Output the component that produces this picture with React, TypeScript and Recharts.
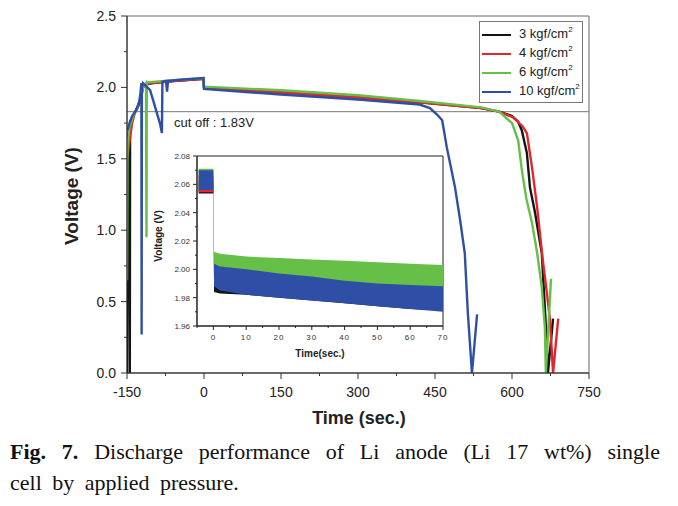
import React from 'react';
import {
    LineChart,
    Line,
    XAxis,
    YAxis,
    ReferenceLine,
    ReferenceArea,
    ComposedChart,
    Area
} from 'recharts';

// main plot, time (sec.) vs voltage (V)
const blackT = [-150, -149, -146, -144.5, -144, -138, -130, -124, -119, -114, -100, -60, -20, -1, 0, 150, 300, 420, 540, 575, 600, 612, 619, 629, 635, 645, 658, 664, 668, 670, 680];
const blackV = [0, 1.62, 1.7, 0, 1.76, 1.8, 1.86, 1.92, 2.0, 2.02, 2.03, 2.045, 2.055, 2.06, 2.0, 1.965, 1.93, 1.895, 1.855, 1.83, 1.8, 1.76, 1.7, 1.54, 1.3, 1.12, 0.84, 0.46, 0.18, 0, 0.38];

const redT = [-150, -146, -140, -135, -130, -126, -122, -118, -112, -80, -40, -1, 0, 150, 300, 420, 540, 575, 602, 620, 629, 639, 649, 660, 668, 674, 680, 690];
const redV = [1.5, 1.6, 1.75, 1.82, 1.86, 1.89, 1.94, 2.01, 2.025, 2.04, 2.05, 2.06, 2.0, 1.965, 1.93, 1.895, 1.855, 1.83, 1.79, 1.73, 1.68, 1.44, 1.16, 0.79, 0.56, 0.37, 0, 0.38];

const greenT = [-150, -149, -145, -138, -130, -125, -119, -113, -112, -111.5, -110, -60, -20, -1, 0, 150, 300, 420, 540, 575, 600, 612, 620, 628, 639, 649, 658, 664, 666, 676];
const greenV = [0.65, 1.6, 1.72, 1.8, 1.85, 1.9, 2.0, 2.03, 0.95, 2.03, 2.035, 2.05, 2.06, 2.065, 2.005, 1.98, 1.945, 1.905, 1.86, 1.83, 1.75, 1.63, 1.4, 1.22, 1.05, 0.84, 0.6, 0.32, 0, 0.66];

const blueT = [-149, -145, -140, -132, -127, -124, -122, -121.5, -121, -119, -105, -95, -86, -82, -81, -74, -72, -70, -40, -1, 0, 150, 300, 420, 440, 454, 464, 473, 489, 499, 508, 514, 522, 532];
const blueV = [1.7, 1.75, 1.8, 1.84, 1.88, 1.95, 2.03, 0.27, 2.0, 2.03, 1.98, 1.86, 1.75, 1.68, 2.04, 2.045, 1.97, 2.045, 2.055, 2.065, 1.99, 1.95, 1.915, 1.88, 1.855, 1.81, 1.77, 1.58, 1.3, 1.07, 0.84, 0.42, 0, 0.41];

const mainXTicks = [-150, -75, 0, 75, 150, 225, 300, 375, 450, 525, 600, 675, 750];
const mainYTicks = [0, 0.25, 0.5, 0.75, 1, 1.25, 1.5, 1.75, 2, 2.25, 2.5];
const cutOff = 1.83;

// inset: noisy bands shown as low/high envelopes
const insetT = [-4.5, 0, 0.2, 2, 10, 20, 30, 40, 50, 60, 70];
const greenHi = [2.071, 2.071, 2.0125, 2.011, 2.009, 2.008, 2.007, 2.006, 2.005, 2.004, 2.003];
const greenLo = [2.056, 2.056, 1.995, 1.995, 1.993, 1.991, 1.989, 1.987, 1.986, 1.985, 1.984];
const blueHi = [2.07, 2.07, 2.004, 2.002, 2.0, 1.997, 1.995, 1.992, 1.99, 1.989, 1.988];
const blueLo = [2.056, 2.056, 1.988, 1.985, 1.982, 1.98, 1.978, 1.976, 1.974, 1.972, 1.97];
const redHi = [2.066, 2.066, 2.002, 2.0, 1.998, 1.996, 1.994, 1.992, 1.991, 1.99, 1.989];
const redLo = [2.0545, 2.0545, 1.99, 1.988, 1.986, 1.984, 1.982, 1.98, 1.978, 1.976, 1.975];
const blackHi = [2.062, 2.062, 1.995, 1.992, 1.99, 1.988, 1.986, 1.984, 1.982, 1.98, 1.978];
const blackLo = [2.0535, 2.0535, 1.984, 1.983, 1.982, 1.98, 1.978, 1.976, 1.974, 1.972, 1.971];

const insetXTicks = [-5, 0, 5, 10, 15, 20, 25, 30, 35, 40, 45, 50, 55, 60, 65, 70];
const insetYTicks = [1.96, 1.97, 1.98, 1.99, 2.0, 2.01, 2.02, 2.03, 2.04, 2.05, 2.06, 2.07, 2.08];

const series = [
    { key: 'black', name: '3 kgf/cm', color: '#141414', t: blackT, v: blackV },
    { key: 'red', name: '4 kgf/cm', color: '#e3262b', t: redT, v: redV },
    { key: 'green', name: '6 kgf/cm', color: '#66bf46', t: greenT, v: greenV },
    { key: 'blue', name: '10 kgf/cm', color: '#2f4fa6', t: blueT, v: blueV },
];

const insetData = insetT.map((t, i) => ({
    t,
    black: [blackLo[i], blackHi[i]],
    red: [redLo[i], redHi[i]],
    green: [greenLo[i], greenHi[i]],
    blue: [blueLo[i], blueHi[i]],
}));

const sans = 'Arial, "Liberation Sans", sans-serif';

const MainXTick = (props: any) => {
    const { x, y, payload } = props;
    const major = payload.value % 150 === 0;
    return (
        <g>
            <line x1={x} x2={x} y1={y} y2={y + (major ? 6 : 3)} stroke="#333" />
            {major && (
                <text x={x} y={y + 24} textAnchor="middle" fontSize={14} fontFamily={sans} fill="#222">
                    {payload.value}
                </text>
            )}
        </g>
    );
};

const MainYTick = (props: any) => {
    const { x, y, payload } = props;
    const major = Math.abs(payload.value * 2 - Math.round(payload.value * 2)) < 1e-6;
    return (
        <g>
            <line x1={x} x2={x - (major ? 6 : 3)} y1={y} y2={y} stroke="#333" />
            {major && (
                <text x={x - 11} y={y + 5} textAnchor="end" fontSize={14} fontFamily={sans} fill="#222">
                    {payload.value.toFixed(1)}
                </text>
            )}
        </g>
    );
};

const InsetXTick = (props: any) => {
    const { x, y, payload } = props;
    const major = payload.value % 10 === 0;
    return (
        <g>
            <line x1={x} x2={x} y1={y} y2={y + (major ? 4 : 2)} stroke="#222" />
            {major && (
                <text x={x} y={y + 14} textAnchor="middle" fontSize={8} letterSpacing={1} fontFamily={sans} fill="#333">
                    {payload.value}
                </text>
            )}
        </g>
    );
};

const InsetYTick = (props: any) => {
    const { x, y, payload } = props;
    const major = Math.round(payload.value * 100) % 2 === 0;
    return (
        <g>
            <line x1={x} x2={x - (major ? 4 : 2)} y1={y} y2={y} stroke="#222" />
            {major && (
                <text x={x - 7} y={y + 3} textAnchor="end" fontSize={8} fontFamily={sans} fill="#333">
                    {payload.value.toFixed(2)}
                </text>
            )}
        </g>
    );
};

const App: React.FC = () => {
    return (
        <div style={{ position: 'absolute', left: 0, top: 0, width: 678, height: 506, background: '#fff', fontFamily: sans }}>
            <div style={{ position: 'absolute', left: 0, top: 0 }}>
                <LineChart width={678} height={420} margin={{ top: 16, right: 89, bottom: 17, left: 0 }}>
                    <ReferenceArea x1={-150} x2={750} y1={0} y2={2.5} fill="none" stroke="#666" strokeWidth={1} />
                    <XAxis
                        type="number"
                        dataKey="t"
                        domain={[-150, 750]}
                        ticks={mainXTicks}
                        interval={0}
                        tickSize={0}
                        tickMargin={0}
                        tick={<MainXTick />}
                        height={30}
                        stroke="#222"
                        allowDataOverflow
                    />
                    <YAxis
                        type="number"
                        dataKey="v"
                        domain={[0, 2.5]}
                        ticks={mainYTicks}
                        interval={0}
                        tickSize={0}
                        tickMargin={0}
                        tick={<MainYTick />}
                        width={127}
                        stroke="#222"
                        allowDataOverflow
                    />
                    <ReferenceLine y={cutOff} stroke="#777" strokeWidth={1} />
                    {series.map((s) => (
                        <Line
                            key={s.key}
                            data={s.t.map((t, i) => ({ t, v: s.v[i] }))}
                            dataKey="v"
                            type="linear"
                            stroke={s.color}
                            strokeWidth={2.4}
                            dot={false}
                            isAnimationActive={false}
                        />
                    ))}
                </LineChart>
            </div>

            <div style={{ position: 'absolute', left: 174, top: 115, fontSize: 13, color: '#222' }}>
                cut off : 1.83V
            </div>

            {/* legend */}
            <div
                style={{
                    position: 'absolute',
                    left: 479,
                    top: 21,
                    width: 102,
                    height: 80,
                    border: '1px solid #777',
                    background: '#fff',
                }}
            >
                {series.map((s, i) => (
                    <div key={s.key} style={{ position: 'absolute', left: 2, top: 4 + i * 19, height: 16, width: 100 }}>
                        <div style={{ position: 'absolute', left: 0, top: 8, width: 29, height: 2, background: s.color }} />
                        <div style={{ position: 'absolute', left: 37, top: 0, fontSize: 13, color: '#222', whiteSpace: 'nowrap' }}>
                            {s.name}
                            <sup style={{ fontSize: 8, position: 'relative', top: -1 }}>2</sup>
                        </div>
                    </div>
                ))}
            </div>

            {/* inset */}
            <div style={{ position: 'absolute', left: 140, top: 145 }}>
                <ComposedChart width={310} height={215} data={insetData} margin={{ top: 11, right: 7, bottom: 14, left: 0 }}>
                    <ReferenceArea x1={-5} x2={70} y1={1.96} y2={2.08} fill="#fff" fillOpacity={1} stroke="#222" strokeWidth={1} />
                    <XAxis
                        type="number"
                        dataKey="t"
                        domain={[-5, 70]}
                        ticks={insetXTicks}
                        interval={0}
                        tickSize={0}
                        tickMargin={0}
                        tick={<InsetXTick />}
                        height={20}
                        stroke="#222"
                        allowDataOverflow
                    />
                    <YAxis
                        type="number"
                        domain={[1.96, 2.08]}
                        ticks={insetYTicks}
                        interval={0}
                        tickSize={0}
                        tickMargin={0}
                        tick={<InsetYTick />}
                        width={57}
                        stroke="#222"
                        allowDataOverflow
                    />
                    {['black', 'red', 'green', 'blue'].map((k) => {
                        const s = series.find((x) => x.key === k)!;
                        return (
                            <Area
                                key={k}
                                dataKey={k}
                                type="linear"
                                stroke="none"
                                fill={s.color}
                                fillOpacity={1}
                                isAnimationActive={false}
                            />
                        );
                    })}
                </ComposedChart>
            </div>
            <div
                style={{
                    position: 'absolute',
                    left: 158,
                    top: 236,
                    transform: 'translate(-50%, -50%) rotate(-90deg)',
                    fontSize: 10,
                    fontWeight: 'bold',
                    whiteSpace: 'nowrap',
                    color: '#222',
                }}
            >
                Voltage (V)
            </div>
            <div
                style={{
                    position: 'absolute',
                    left: 320,
                    top: 353,
                    transform: 'translate(-50%, -50%)',
                    fontSize: 10,
                    fontWeight: 'bold',
                    whiteSpace: 'nowrap',
                    color: '#222',
                }}
            >
                Time(sec.)
            </div>

            {/* main axis titles */}
            <div
                style={{
                    position: 'absolute',
                    left: 72,
                    top: 196,
                    transform: 'translate(-50%, -50%) rotate(-90deg)',
                    fontSize: 19,
                    fontWeight: 'bold',
                    whiteSpace: 'nowrap',
                    color: '#222',
                }}
            >
                Voltage (V)
            </div>
            <div
                style={{
                    position: 'absolute',
                    left: 359,
                    top: 418,
                    transform: 'translate(-50%, -50%)',
                    fontSize: 18,
                    fontWeight: 'bold',
                    whiteSpace: 'nowrap',
                    color: '#222',
                }}
            >
                Time (sec.)
            </div>

            {/* caption */}
            <div
                style={{
                    position: 'absolute',
                    left: 10,
                    top: 436,
                    width: 650,
                    fontFamily: '"Liberation Serif", "Times New Roman", serif',
                    fontSize: 22,
                    lineHeight: '31px',
                    color: '#111',
                }}
            >
                <div style={{ textAlign: 'justify', textAlignLast: 'justify' }}>
                    <b>Fig. 7.</b> Discharge performance of Li anode (Li 17 wt%) single
                </div>
                <div style={{ textAlign: 'left', wordSpacing: 5 }}>cell by applied pressure.</div>
            </div>
        </div>
    );
};

export default App;
